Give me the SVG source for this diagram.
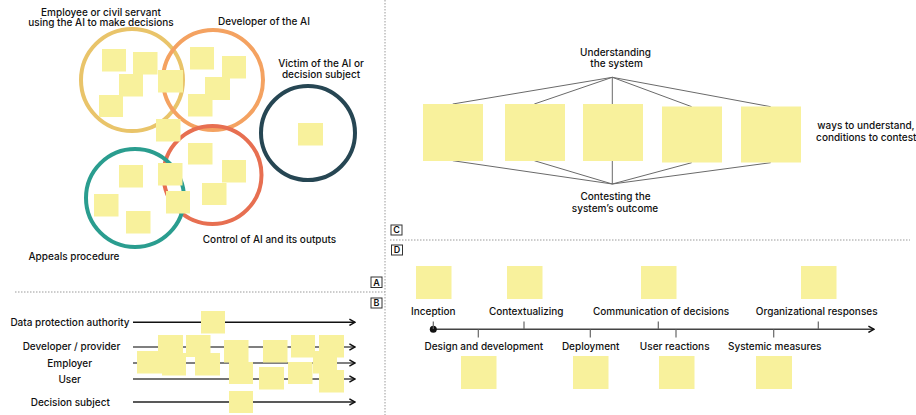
<svg xmlns="http://www.w3.org/2000/svg" width="916" height="415" viewBox="0 0 916 415">
<defs>
<style>
text{font-family:Inter,"Liberation Sans",sans-serif;font-size:10px;font-weight:500;fill:#111;}
.m{text-anchor:middle;}
.e{text-anchor:end;}
.n{fill:#F8F19C;}
.ring{fill:none;stroke-width:4;}
.div{stroke:#9a9a9a;stroke-width:1;stroke-dasharray:1.5 1.5;fill:none;}
.tag{fill:#fff;stroke:#333;stroke-width:1;}
.tagt{font-size:9px;text-anchor:middle;font-weight:600;}
.fan{stroke:#6a6a6a;stroke-width:1;fill:none;}
.lane{stroke-width:1.4;fill:none;marker-end:url(#chev);}
.tick{stroke:#666;stroke-width:1.2;}
</style>
<marker id="chev" viewBox="0 0 10 10" refX="9" refY="5" markerWidth="8" markerHeight="8" markerUnits="userSpaceOnUse" orient="auto">
<path d="M2,1 L9,5 L2,9" fill="none" stroke="#111" stroke-width="1.8"/>
</marker>
</defs>
<rect width="916" height="415" fill="#fff"/>

<g id="dividers">
<line class="div" x1="385" y1="0" x2="385" y2="415"/>
<line class="div" x1="15" y1="292" x2="385" y2="292"/>
<line class="div" x1="390" y1="240" x2="910" y2="240"/>
</g>

<g id="tags">
<rect class="tag" x="371" y="277" width="11" height="10.5"/><text class="tagt" x="376.5" y="285.5">A</text>
<rect class="tag" x="371" y="298" width="11" height="10"/><text class="tagt" x="376.5" y="306.3">B</text>
<rect class="tag" x="391" y="225" width="11" height="10"/><text class="tagt" x="396.5" y="233.3">C</text>
<rect class="tag" x="391.5" y="245" width="11" height="10"/><text class="tagt" x="397" y="253.3">D</text>
</g>

<!-- Section A -->
<g id="circle-employee">
<circle class="ring" cx="132" cy="80" r="51" stroke="#E9C46A"/>
<text class="m" x="101" y="15.5">Employee or civil servant</text>
<text class="m" x="101" y="26">using the AI to make decisions</text>
</g>
<g id="circle-developer">
<circle class="ring" cx="213" cy="80" r="50" stroke="#F4A261"/>
<text class="m" x="264" y="25">Developer of the AI</text>
</g>
<g id="circle-victim">
<circle class="ring" cx="308" cy="133" r="47" stroke="#264653"/>
<text class="m" x="321" y="66.5">Victim of the AI or</text>
<text class="m" x="321" y="77.7">decision subject</text>
</g>
<g id="circle-control">
<circle class="ring" cx="212.5" cy="175" r="49" stroke="#E76F51"/>
<text class="m" x="269.5" y="243">Control of AI and its outputs</text>
</g>
<g id="circle-appeals">
<circle class="ring" cx="135" cy="198" r="49" stroke="#2A9D8F"/>
<text class="e" x="119.5" y="259.5">Appeals procedure</text>
</g>
<g id="notes-A">
<rect class="n" x="102" y="49" width="24" height="22.5"/>
<rect class="n" x="133" y="52" width="24.5" height="22.5"/>
<rect class="n" x="119" y="74" width="24" height="22.5"/>
<rect class="n" x="158" y="70" width="25" height="22.5"/>
<rect class="n" x="99" y="95" width="24" height="22"/>
<rect class="n" x="156" y="119" width="24.5" height="22.5"/>
<rect class="n" x="190" y="47" width="24" height="22.5"/>
<rect class="n" x="222" y="56" width="24" height="22.5"/>
<rect class="n" x="205" y="77" width="25" height="23"/>
<rect class="n" x="188" y="94" width="24.5" height="22.5"/>
<rect class="n" x="298" y="123" width="25" height="22.5"/>
<rect class="n" x="188" y="143" width="24.5" height="21.5"/>
<rect class="n" x="222" y="160" width="24" height="22.5"/>
<rect class="n" x="202" y="183" width="24.5" height="22"/>
<rect class="n" x="158" y="163" width="24.5" height="22.5"/>
<rect class="n" x="166" y="191" width="24" height="22.5"/>
<rect class="n" x="119" y="165" width="24" height="22.5"/>
<rect class="n" x="94" y="194" width="24.5" height="22.5"/>
<rect class="n" x="126" y="211" width="24.5" height="22.5"/>
</g>

<!-- Section B -->
<g id="lanes">
<line class="lane" x1="133" y1="322.3" x2="355" y2="322.3" stroke="#111"/>
<line class="lane" x1="133" y1="347" x2="355" y2="347" stroke="#555"/>
<line class="lane" x1="133" y1="363" x2="355" y2="363" stroke="#555"/>
<line class="lane" x1="133" y1="379" x2="355" y2="379" stroke="#444"/>
<line class="lane" x1="133" y1="402" x2="355" y2="402" stroke="#222"/>
</g>
<g id="lane-labels">
<text class="m" x="70" y="325.7">Data protection authority</text>
<text class="m" x="71.5" y="350.3">Developer / provider</text>
<text class="m" x="69.7" y="366.7">Employer</text>
<text class="m" x="69.7" y="382.7">User</text>
<text class="m" x="70.3" y="405.7">Decision subject</text>
</g>
<g id="notes-B">
<rect class="n" x="137" y="351" width="25" height="22.5"/>
<rect class="n" x="158" y="335" width="25" height="22"/>
<rect class="n" x="162" y="353" width="24" height="22.5"/>
<rect class="n" x="186" y="335" width="24.5" height="22"/>
<rect class="n" x="195" y="353" width="25" height="22.5"/>
<rect class="n" x="201" y="311" width="24" height="22.5"/>
<rect class="n" x="224" y="340" width="24.5" height="22.5"/>
<rect class="n" x="229" y="362" width="24" height="22"/>
<rect class="n" x="229" y="391" width="24" height="22"/>
<rect class="n" x="263" y="340" width="24.5" height="22.5"/>
<rect class="n" x="259" y="367" width="25" height="22.5"/>
<rect class="n" x="291" y="335" width="24" height="22.5"/>
<rect class="n" x="288" y="362" width="24.5" height="22"/>
<rect class="n" x="319" y="335" width="25" height="22.5"/>
<rect class="n" x="313" y="351" width="24" height="22.5"/>
<rect class="n" x="319" y="370" width="25" height="22.5"/>
</g>

<!-- Section C -->
<g id="fan-lines">
<path class="fan" d="M612.3,77.3 L452.7,104 M612.3,77.3 L534.3,104 M612.3,77.3 L612.3,104 M612.3,77.3 L691.7,106.7 M612.3,77.3 L770.7,106.7"/>
<path class="fan" d="M612.3,184 L452.7,160.7 M612.3,184 L534.3,160.7 M612.3,184 L612.3,160.7 M612.3,184 L691.7,162.7 M612.3,184 L770.7,162.7"/>
</g>
<g id="notes-C">
<rect class="n" x="423" y="104" width="60" height="57"/>
<rect class="n" x="505" y="104" width="60" height="57"/>
<rect class="n" x="583" y="104" width="60" height="57"/>
<rect class="n" x="662" y="106.5" width="60" height="56"/>
<rect class="n" x="741" y="106.5" width="60" height="56"/>
</g>
<g id="labels-C">
<text class="m" x="615.5" y="55.7">Understanding</text>
<text class="m" x="616.5" y="66.7">the system</text>
<text class="m" x="615.5" y="200">Contesting the</text>
<text class="m" x="615" y="211.7">system’s outcome</text>
<text class="m" x="866" y="129.3">ways to understand,</text>
<text class="m" x="866.3" y="141">conditions to contest</text>
</g>

<!-- Section D -->
<g id="timeline">
<line x1="433.3" y1="329.3" x2="874" y2="329.3" stroke="#444" stroke-width="1.5" marker-end="url(#chev)"/>
<circle cx="433.3" cy="329.3" r="3.5" fill="#111"/>
<line class="tick" x1="433.3" y1="321.5" x2="433.3" y2="329"/>
<line class="tick" x1="524" y1="321.5" x2="524" y2="329"/>
<line class="tick" x1="658.3" y1="321.5" x2="658.3" y2="329"/>
<line class="tick" x1="818.3" y1="321.5" x2="818.3" y2="329"/>
<line class="tick" x1="478.3" y1="329.5" x2="478.3" y2="337.5"/>
<line class="tick" x1="590.3" y1="329.5" x2="590.3" y2="337.5"/>
<line class="tick" x1="676" y1="329.5" x2="676" y2="337.5"/>
<line class="tick" x1="773.7" y1="329.5" x2="773.7" y2="337.5"/>
</g>
<g id="phase-labels">
<text class="m" x="433.3" y="315">Inception</text>
<text class="m" x="526.2" y="315">Contextualizing</text>
<text class="m" x="661" y="315">Communication of decisions</text>
<text class="m" x="816.7" y="315">Organizational responses</text>
<text class="m" x="483.8" y="350">Design and development</text>
<text class="m" x="590.7" y="350">Deployment</text>
<text class="m" x="674.7" y="350">User reactions</text>
<text class="m" x="774.7" y="350">Systemic measures</text>
</g>
<g id="notes-D">
<rect class="n" x="416" y="266" width="35.5" height="33"/>
<rect class="n" x="507" y="266" width="35.5" height="33"/>
<rect class="n" x="641" y="266" width="35.5" height="33"/>
<rect class="n" x="801" y="266" width="35.5" height="33"/>
<rect class="n" x="461" y="356" width="35.5" height="33"/>
<rect class="n" x="573" y="356" width="35.5" height="33"/>
<rect class="n" x="659" y="356" width="35.5" height="33"/>
<rect class="n" x="756" y="356" width="36" height="33"/>
</g>
</svg>
